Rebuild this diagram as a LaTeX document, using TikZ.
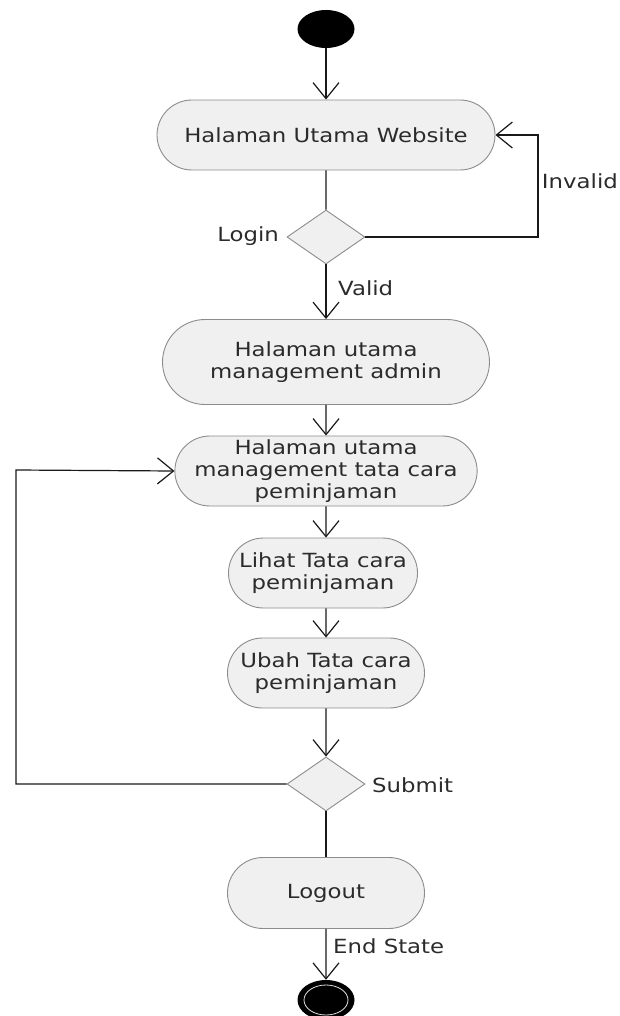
\documentclass[tikz,border=0pt]{standalone}
\usepackage{fontspec}
\setmainfont{DejaVu Sans}[FakeStretch=1.17]
\usetikzlibrary{shapes.misc, shapes.geometric, arrows.meta}
\definecolor{txtgray}{HTML}{2B2B2B}
\definecolor{boxgray}{HTML}{8C8C8C}
\definecolor{boxfill}{HTML}{F0F0F0}
\begin{document}
\begin{tikzpicture}[
        x = 1pt, y = -1pt,
        font = \fontsize{19.5}{22}\selectfont, text = txtgray,
        activity/.style = {rounded rectangle, draw = boxgray, fill = boxfill, line width = 0.9pt, align = center, inner sep = 0pt},
        choice/.style = {diamond, draw = boxgray, fill = boxfill, line width = 0.9pt, inner sep = 0pt, minimum width = 78pt, minimum height = 54pt},
        dot/.style = {ellipse, fill = black, inner sep = 0pt, minimum width = 57pt, minimum height = 38pt},
        label/.style = {inner sep = 0pt},
        flow/.style = {line width = 1.2pt, draw = black!90},
        arrow/.style = {flow, -{Straight Barb[length = 16pt, width = 26pt]}}
    ]
    \useasboundingbox (0, 0) rectangle (619, 1016);

    \node [dot] (start) at (326, 29) {};
    \node [activity, minimum width = 338pt, minimum height = 70pt] (web) at (326, 135) {Halaman Utama Website};
    \node [choice] (login) at (326, 237) {};
    \node [activity, minimum width = 327pt, minimum height = 85pt] (admin) at (326, 362) {Halaman utama\\management admin};
    \node [activity, minimum width = 290pt, minimum height = 70pt] (tata) at (326, 471) {Halaman utama\\management tata cara\\peminjaman};
    \node [activity, minimum width = 189pt, minimum height = 70pt] (lihat) at (323, 573) {Lihat Tata cara\\peminjaman};
    \node [activity, minimum width = 197pt, minimum height = 70pt] (ubah) at (326, 673) {Ubah Tata cara\\peminjaman};
    \node [choice] (submit) at (326, 784) {};
    \node [activity, minimum width = 197pt, minimum height = 71pt] (logout) at (326, 893) {Logout};
    \node [dot, minimum height = 40pt] (end) at (326, 1000) {};
    \draw [white!75!gray, line width = 0.8pt] (end.center) ellipse [x radius = 22, y radius = 15];

    \coordinate (invalid) at (538, 135);
    \coordinate (back) at (16, 470);

    \draw [arrow] (start) -- (web);
    \draw [flow] (web) -- (login);
    \draw [arrow] (login.east) -| (invalid) -- (web.east);
    \draw [arrow] (login) -- (admin);
    \draw [arrow] (admin) -- (tata);
    \draw [arrow] (tata) -- (tata |- lihat.north);
    \draw [arrow] (lihat.south -| ubah) -- (ubah);
    \draw [arrow] (ubah) -- (submit);
    \draw [arrow] (submit.west) -| (back) -- (tata.west);
    \draw [flow] (submit) -- (logout);
    \draw [arrow] (logout) -- (end);

    \node [label, anchor = east] (loginlabel) at (279, 236) {Login};
    \node [label, anchor = east] (invalidlabel) at (618, 181) {Invalid};
    \node [label, anchor = west] (validlabel) at (338, 288) {Valid};
    \node [label, anchor = west] (submitlabel) at (372, 785) {Submit};
    \node [label, anchor = west] (endlabel) at (333, 946) {End State};
\end{tikzpicture}
\end{document}
